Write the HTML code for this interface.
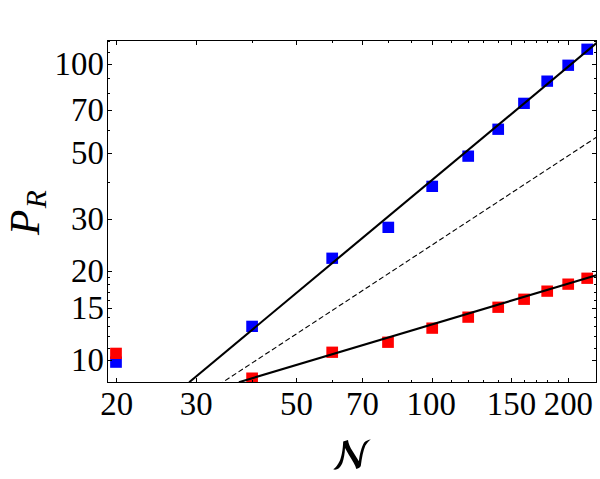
<!DOCTYPE html>
<html><head><meta charset="utf-8"><title>plot</title>
<style>
html,body{margin:0;padding:0;background:#fff;}
svg{display:block;}
text{font-family:"Liberation Serif",serif;fill:#000;}
</style></head><body>
<svg width="600" height="479" viewBox="0 0 600 479">
<rect x="0" y="0" width="600" height="479" fill="#fff"/>
<defs><clipPath id="c"><rect x="107.0" y="40.0" width="490.0" height="343.0"/></clipPath></defs>
<g clip-path="url(#c)">
<rect x="110.15" y="356.50" width="11.7" height="11.3" fill="#0000ff"/>
<rect x="246.25" y="320.70" width="11.7" height="11.3" fill="#0000ff"/>
<rect x="326.35" y="252.60" width="11.7" height="11.3" fill="#0000ff"/>
<rect x="382.45" y="221.70" width="11.7" height="11.3" fill="#0000ff"/>
<rect x="426.35" y="180.70" width="11.7" height="11.3" fill="#0000ff"/>
<rect x="462.35" y="150.50" width="11.7" height="11.3" fill="#0000ff"/>
<rect x="492.35" y="123.60" width="11.7" height="11.3" fill="#0000ff"/>
<rect x="518.15" y="97.70" width="11.7" height="11.3" fill="#0000ff"/>
<rect x="541.35" y="75.50" width="11.7" height="11.3" fill="#0000ff"/>
<rect x="562.35" y="59.60" width="11.7" height="11.3" fill="#0000ff"/>
<rect x="581.35" y="43.60" width="11.7" height="11.3" fill="#0000ff"/>
<rect x="110.15" y="347.70" width="11.7" height="11.3" fill="#ff0000"/>
<rect x="246.25" y="372.50" width="11.7" height="11.3" fill="#ff0000"/>
<rect x="326.35" y="346.60" width="11.7" height="11.3" fill="#ff0000"/>
<rect x="382.15" y="336.60" width="11.7" height="11.3" fill="#ff0000"/>
<rect x="426.35" y="322.50" width="11.7" height="11.3" fill="#ff0000"/>
<rect x="462.35" y="311.50" width="11.7" height="11.3" fill="#ff0000"/>
<rect x="492.35" y="301.60" width="11.7" height="11.3" fill="#ff0000"/>
<rect x="518.25" y="293.60" width="11.7" height="11.3" fill="#ff0000"/>
<rect x="541.35" y="285.50" width="11.7" height="11.3" fill="#ff0000"/>
<rect x="562.35" y="278.50" width="11.7" height="11.3" fill="#ff0000"/>
<rect x="581.35" y="272.60" width="11.7" height="11.3" fill="#ff0000"/>
<line x1="189.2" y1="382.2" x2="598.0" y2="41.85" stroke="#000" stroke-width="2.1"/>
<line x1="238.9" y1="382.2" x2="596.4" y2="275.2" stroke="#000" stroke-width="2.1"/>
<line x1="222.4" y1="382.45" x2="596.4" y2="137.25" stroke="#000" stroke-width="1.1" stroke-dasharray="5.2 2.8" stroke-dashoffset="4.7"/>
</g>
<path d="M116.50 382.5v-4.5M116.50 40.5v4.5M196.50 382.5v-4.5M196.50 40.5v4.5M296.50 382.5v-4.5M296.50 40.5v4.5M362.50 382.5v-4.5M362.50 40.5v4.5M432.50 382.5v-4.5M432.50 40.5v4.5M511.50 382.5v-4.5M511.50 40.5v4.5M568.50 382.5v-4.5M568.50 40.5v4.5M252.50 382.5v-2.5M252.50 40.5v2.5M332.50 382.5v-2.5M332.50 40.5v2.5M388.50 382.5v-2.5M388.50 40.5v2.5M411.50 382.5v-2.5M411.50 40.5v2.5M451.50 382.5v-2.5M451.50 40.5v2.5M468.50 382.5v-2.5M468.50 40.5v2.5M483.50 382.5v-2.5M483.50 40.5v2.5M498.50 382.5v-2.5M498.50 40.5v2.5M524.50 382.5v-2.5M524.50 40.5v2.5M536.50 382.5v-2.5M536.50 40.5v2.5M547.50 382.5v-2.5M547.50 40.5v2.5M558.50 382.5v-2.5M558.50 40.5v2.5M107.5 360.50h4.5M596.5 360.50h-4.5M107.5 308.50h4.5M596.5 308.50h-4.5M107.5 271.50h4.5M596.5 271.50h-4.5M107.5 219.50h4.5M596.5 219.50h-4.5M107.5 153.50h4.5M596.5 153.50h-4.5M107.5 110.50h4.5M596.5 110.50h-4.5M107.5 64.50h4.5M596.5 64.50h-4.5M107.5 348.50h2.5M596.5 348.50h-2.5M107.5 336.50h2.5M596.5 336.50h-2.5M107.5 326.50h2.5M596.5 326.50h-2.5M107.5 317.50h2.5M596.5 317.50h-2.5M107.5 300.50h2.5M596.5 300.50h-2.5M107.5 292.50h2.5M596.5 292.50h-2.5M107.5 284.50h2.5M596.5 284.50h-2.5M107.5 277.50h2.5M596.5 277.50h-2.5M107.5 182.50h2.5M596.5 182.50h-2.5M107.5 130.50h2.5M596.5 130.50h-2.5M107.5 93.50h2.5M596.5 93.50h-2.5M107.5 78.50h2.5M596.5 78.50h-2.5M107.5 52.50h2.5M596.5 52.50h-2.5M107.5 41.50h2.5M596.5 41.50h-2.5" stroke="#000" stroke-width="1.0" fill="none"/>
<rect x="107.5" y="40.5" width="489.0" height="342.0" fill="none" stroke="#000" stroke-width="1.0"/>
<text x="103.8" y="371.00" font-size="32.8" text-anchor="end">10</text>
<text x="103.8" y="318.88" font-size="32.8" text-anchor="end">15</text>
<text x="103.8" y="281.90" font-size="32.8" text-anchor="end">20</text>
<text x="103.8" y="229.77" font-size="32.8" text-anchor="end">30</text>
<text x="103.8" y="164.10" font-size="32.8" text-anchor="end">50</text>
<text x="103.8" y="120.85" font-size="32.8" text-anchor="end">70</text>
<text x="103.8" y="75.00" font-size="32.8" text-anchor="end">100</text>
<text x="116.75" y="414.7" font-size="32.8" text-anchor="middle">20</text>
<text x="196.27" y="414.7" font-size="32.8" text-anchor="middle">30</text>
<text x="296.46" y="414.7" font-size="32.8" text-anchor="middle">50</text>
<text x="362.45" y="414.7" font-size="32.8" text-anchor="middle">70</text>
<text x="431.20" y="414.7" font-size="32.8" text-anchor="middle">100</text>
<text x="511.43" y="414.7" font-size="32.8" text-anchor="middle">150</text>
<text x="568.35" y="414.7" font-size="32.8" text-anchor="middle">200</text>
<text transform="translate(38.7 235.0) rotate(-90)" font-size="41.6" font-style="italic">P</text>
<text transform="translate(46.0 208.2) rotate(-90)" font-size="29.5" font-style="italic">R</text>
<path fill="#000" d="M333.2 469.3 C335.5 468.0 338.0 464.5 339.8 460.8 C341.5 457.0 342.8 450.5 343.2 441.6 L348.0 440.1 C348.3 443.0 350.0 447.5 352.5 451.0 L358.9 461.2 C359.6 454.5 361.5 446.5 364.2 442.4 C366.0 440.5 368.5 439.8 370.8 439.4 C368.5 441.0 366.5 443.5 365.3 445.8 C363.3 450.5 361.8 458.0 360.8 465.7 C360.3 467.3 359.5 468.0 356.3 468.9 C355.5 465.5 352.5 460.5 348.8 454.8 L345.0 448.0 C344.9 453.0 343.8 459.0 342.4 463.1 C341.3 466.0 339.0 468.8 337.0 469.3 C335.5 469.8 334.2 469.7 333.2 469.3 Z"/>
</svg></body></html>
